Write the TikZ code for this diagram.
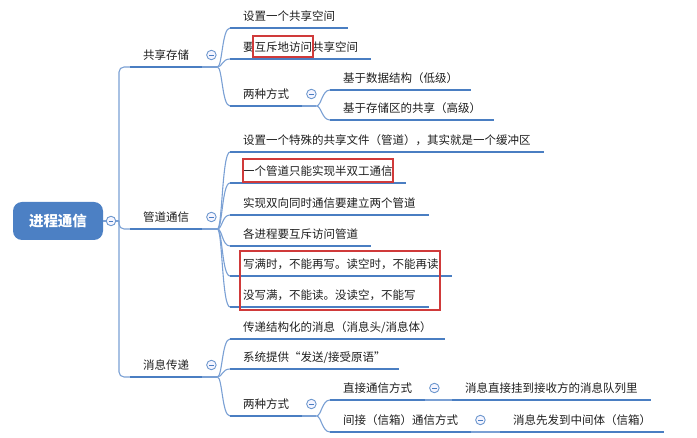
\documentclass[tikz,border=0pt]{standalone}
\usepackage{fontspec}
\setmainfont{Noto Sans CJK SC}
\usepackage{tikz}
\usetikzlibrary{calc}
\definecolor{lineblue}{HTML}{4A7EC2}
\definecolor{linkblue}{HTML}{7AA0D4}
\definecolor{rootblue}{HTML}{4C80C4}
\definecolor{markred}{HTML}{D03A3A}
\definecolor{textgray}{HTML}{1E1E1E}

\begin{document}
\begin{tikzpicture}[x=1pt, y=-1pt,
	topic/.style={anchor=south west, inner xsep=13pt, inner ysep=0pt, text height=10pt, text depth=7.5pt, font=\fontsize{11.5}{13}\selectfont, text=textgray},
	rootbox/.style={fill=rootblue, rounded corners=9pt, minimum width=90pt, minimum height=38pt, text=white, font=\bfseries\fontsize{14.5}{16}\selectfont},
	uline/.style={lineblue, line width=2.6pt},
	link/.style={linkblue, line width=1.1pt},
	btn/.style={circle, draw=lineblue!80, fill=blue!4, line width=0.9pt, minimum size=9.5pt, inner sep=0pt,
		path picture={\draw[lineblue, line width=0.8pt] ([xshift=-2.2pt]path picture bounding box.center) -- ([xshift=2.2pt]path picture bounding box.center);}},
	redbox/.style={draw=markred, line width=1.1pt}]
	\useasboundingbox (0,0) rectangle (697,438);
	\node[rootbox] (root) at (58,221) {进程通信};
	\node[btn] (btnroot) at (111,221) {};
	\coordinate (hubroot) at (119,221);

	\node[topic] (share) at (130,67) {共享存储};
	\node[topic] (pipe) at (130,229) {管道通信};
	\node[topic] (msg) at (130,377) {消息传递};

	\node[topic] (share1) at (230,28) {设置一个共享空间};
	\node[topic] (share2) at (230,59) {要互斥地访问共享空间};
	\node[topic] (shareway) at (230,106) {两种方式};
	\node[topic] (sharewayA) at (330,90) {基于数据结构（低级）};
	\node[topic] (sharewayB) at (330,120) {基于存储区的共享（高级）};

	\node[topic] (pipe1) at (230,152) {设置一个特殊的共享文件（管道），其实就是一个缓冲区};
	\node[topic] (pipe2) at (230,183) {一个管道只能实现半双工通信};
	\node[topic] (pipe3) at (230,215) {实现双向同时通信要建立两个管道};
	\node[topic] (pipe4) at (230,246) {各进程要互斥访问管道};
	\node[topic] (pipe5) at (230,276) {写满时，不能再写。读空时，不能再读};
	\node[topic] (pipe6) at (230,307) {没写满，不能读。没读空，不能写};

	\node[topic] (msg1) at (230,339) {传递结构化的消息（消息头/消息体）};
	\node[topic] (msg2) at (230,369) {系统提供“发送/接受原语”};
	\node[topic] (msgway) at (230,416) {两种方式};
	\node[topic] (msgdirect) at (330,400) {直接通信方式};
	\node[topic] (msgindirect) at (330,432) {间接（信箱）通信方式};
	\node[topic] (msgdirect1) at (452,400) {消息直接挂到接收方的消息队列里};
	\node[topic] (msgindirect1) at (500,432) {消息先发到中间体（信箱）};

	\foreach \n in {share,pipe,msg,shareway,msgway,msgdirect,msgindirect}
		\node[btn] (btn\n) at ($(\n.south east)+(9,-12)$) {};
	\foreach \n in {share,pipe,msg}
		\coordinate (hub\n) at ($(\n.south east)+(15,0)$);
	\foreach \n in {shareway,msgway}
		\coordinate (hub\n) at ($(\n.south east)+(14,0)$);

	\draw[link] (root) -- (btnroot) -- (hubroot);
	\foreach \c in {share,pipe,msg}
		\draw[link, rounded corners=5pt] (hubroot) |- (\c.south west);
	\foreach \p in {share,pipe,msg,shareway,msgway}
		\draw[link] (\p.south east) -- (hub\p);
	\foreach \p/\c in {share/share1,share/share2,share/shareway,shareway/sharewayA,shareway/sharewayB,
		pipe/pipe1,pipe/pipe2,pipe/pipe3,pipe/pipe4,pipe/pipe5,pipe/pipe6,
		msg/msg1,msg/msg2,msg/msgway,msgway/msgdirect,msgway/msgindirect}
		\draw[link] (hub\p) .. controls +(5,0) and +(-8,0) .. (\c.south west);
	\draw[link] (msgdirect.south east) -- (msgdirect1.south west);
	\draw[link] (msgindirect.south east) -- (msgindirect1.south west);

	\foreach \n in {share,pipe,msg,share1,share2,shareway,sharewayA,sharewayB,pipe1,pipe2,pipe3,pipe4,pipe5,pipe6,
		msg1,msg2,msgway,msgdirect,msgindirect,msgdirect1,msgindirect1}
		\draw[uline] (\n.south west) -- (\n.south east);

	\draw[redbox] (253,36) rectangle (313,57);
	\draw[redbox] (243,159) rectangle (393,182);
	\draw[redbox] (240,251) rectangle (440,310);
\end{tikzpicture}
\end{document}
